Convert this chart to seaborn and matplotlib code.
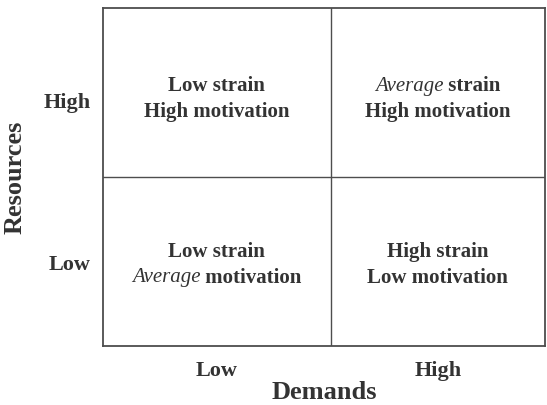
import numpy as np
import seaborn as sns
import matplotlib.pyplot as plt
from matplotlib.colors import ListedColormap
from matplotlib import transforms

# categories
demand_levels = ["Low", "High"]
resource_levels = ["High", "Low"]   # top row first

# quadrant labels, each line is a list of (text, style) pieces
cell_lines = {
    (0, 0): [[("Low strain", "normal")], [("High motivation", "normal")]],
    (0, 1): [[("Average", "italic"), (" strain", "normal")], [("High motivation", "normal")]],
    (1, 0): [[("Low strain", "normal")], [("Average", "italic"), (" motivation", "normal")]],
    (1, 1): [[("High strain", "normal")], [("Low motivation", "normal")]],
}

sns.set_style("white")
plt.rcParams['font.family'] = ['Liberation Serif', 'DejaVu Serif']

ink = "#333333"
grid_col = "#4d4d4d"

fig = plt.figure(figsize=(5.47, 4.05), dpi=100)
ax = fig.add_axes([0.188, 0.146, 0.808, 0.834])

sns.heatmap(np.zeros((2, 2)), cmap=ListedColormap(["white"]), cbar=False,
            linewidths=0, ax=ax,
            xticklabels=demand_levels, yticklabels=resource_levels)

# left column in the original is a bit wider than the right one
x_left = -0.065
ax.set_xlim(x_left, 2)
ax.axvline(1, color=grid_col, lw=1.0)
ax.axhline(1, color=grid_col, lw=1.0)

for s in ax.spines.values():
    s.set_visible(True)
    s.set_color(grid_col)
    s.set_linewidth(1.3)

col_centres = [(x_left + 1) / 2, 1.5]

ax.set_xticks(col_centres)
ax.set_yticks([0.56, 1.52])
ax.set_yticklabels(resource_levels, rotation=0, fontsize=16, fontweight="bold", color=ink)
ax.set_xticklabels(demand_levels, fontsize=16, fontweight="bold", color=ink)
ax.tick_params(axis="x", length=0, pad=11)
ax.tick_params(axis="y", length=0, pad=9)
ax.set_xlabel("Demands", fontsize=19, fontweight="bold", color=ink, labelpad=0)
ax.set_ylabel("Resources", fontsize=19, fontweight="bold", color=ink, labelpad=12)

fig.canvas.draw()
r = fig.canvas.get_renderer()

row_shift = {0: 0.04, 1: 0.02}
line_gap = 13  # px from centre of the cell text block

for (row, col), lines in cell_lines.items():
    cx, cy = col_centres[col], row + 0.5 + row_shift[row]
    for i, pieces in enumerate(lines):
        dy = line_gap if i == 0 else -line_gap
        texts = []
        for txt, st in pieces:
            t = ax.text(cx, cy, txt, ha="left", va="center", fontsize=15,
                        fontweight="normal" if st == "italic" else "bold",
                        style=st, color=ink)
            texts.append(t)
        widths = [t.get_window_extent(r).width for t in texts]
        x0 = -sum(widths) / 2
        for t, w in zip(texts, widths):
            t.set_transform(transforms.offset_copy(ax.transData, fig, x=x0, y=dy, units="dots"))
            x0 += w

fig.savefig("out.png", dpi=100)
